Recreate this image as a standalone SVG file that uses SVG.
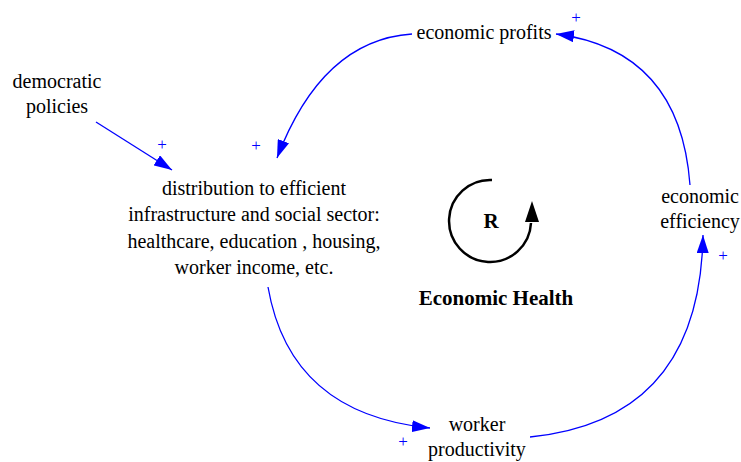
<svg xmlns="http://www.w3.org/2000/svg" width="741" height="462" viewBox="0 0 741 462">
  <style>
    text { font-family: 'Liberation Serif', 'Times New Roman', serif; }
    .lbl { font-size: 20px; fill: #000; text-anchor: middle; }
    .bold { font-size: 21px; font-weight: bold; }
    .sign { font-size: 17px; fill: #0000ff; text-anchor: middle; }
    .link { fill: none; stroke: #0000ff; stroke-width: 1.3; marker-end: url(#arrow); }
  </style>
  <defs>
    <marker id="arrow" markerUnits="userSpaceOnUse" markerWidth="19" markerHeight="12" refX="18" refY="6" orient="auto">
      <path d="M0,0 L18,6 L0,12 z" fill="#0000ff"/>
    </marker>
  </defs>
  <rect width="741" height="462" fill="#fff"/>

  <!-- causal links -->
  <g id="connectors">
    <path class="link" d="M412,34 Q322,40 277,158"/>
    <path class="link" d="M690,185 Q680,50 556,34"/>
    <path class="link" d="M530,437 Q700,420 703,235"/>
    <path class="link" d="M268,287 Q290,414 430,428"/>
    <path class="link" d="M96,122 L172,170"/>
  </g>

  <!-- link polarities -->
  <g id="polarities">
    <text class="sign" x="576" y="23">+</text>
    <text class="sign" x="256" y="151">+</text>
    <text class="sign" x="162" y="150">+</text>
    <text class="sign" x="723" y="261">+</text>
    <text class="sign" x="403" y="447">+</text>
  </g>

  <g id="economic-profits">
    <text class="lbl" x="484" y="39">economic profits</text>
  </g>
  <g id="democratic-policies">
    <text class="lbl" x="57" y="88">democratic</text>
    <text class="lbl" x="57" y="113">policies</text>
  </g>
  <g id="distribution">
    <text class="lbl" x="254" y="195">distribution to efficient</text>
    <text class="lbl" x="254" y="221">infrastructure and social sector:</text>
    <text class="lbl" x="254" y="248">healthcare, education , housing,</text>
    <text class="lbl" x="254" y="274">worker income, etc.</text>
  </g>
  <g id="economic-efficiency">
    <text class="lbl" x="700" y="203">economic</text>
    <text class="lbl" x="700" y="228">efficiency</text>
  </g>
  <g id="worker-productivity">
    <text class="lbl" x="477" y="431">worker</text>
    <text class="lbl" x="477" y="456">productivity</text>
  </g>

  <!-- reinforcing loop marker -->
  <g id="loop-economic-health">
    <path d="M492,180 A41,41 0 1,0 531,223" fill="none" stroke="#000" stroke-width="2.5"/>
    <path d="M532,201 L525,222 L539,222 z" fill="#000"/>
    <text class="lbl bold" x="491" y="228">R</text>
    <text class="lbl bold" x="496" y="305">Economic Health</text>
  </g>
</svg>
